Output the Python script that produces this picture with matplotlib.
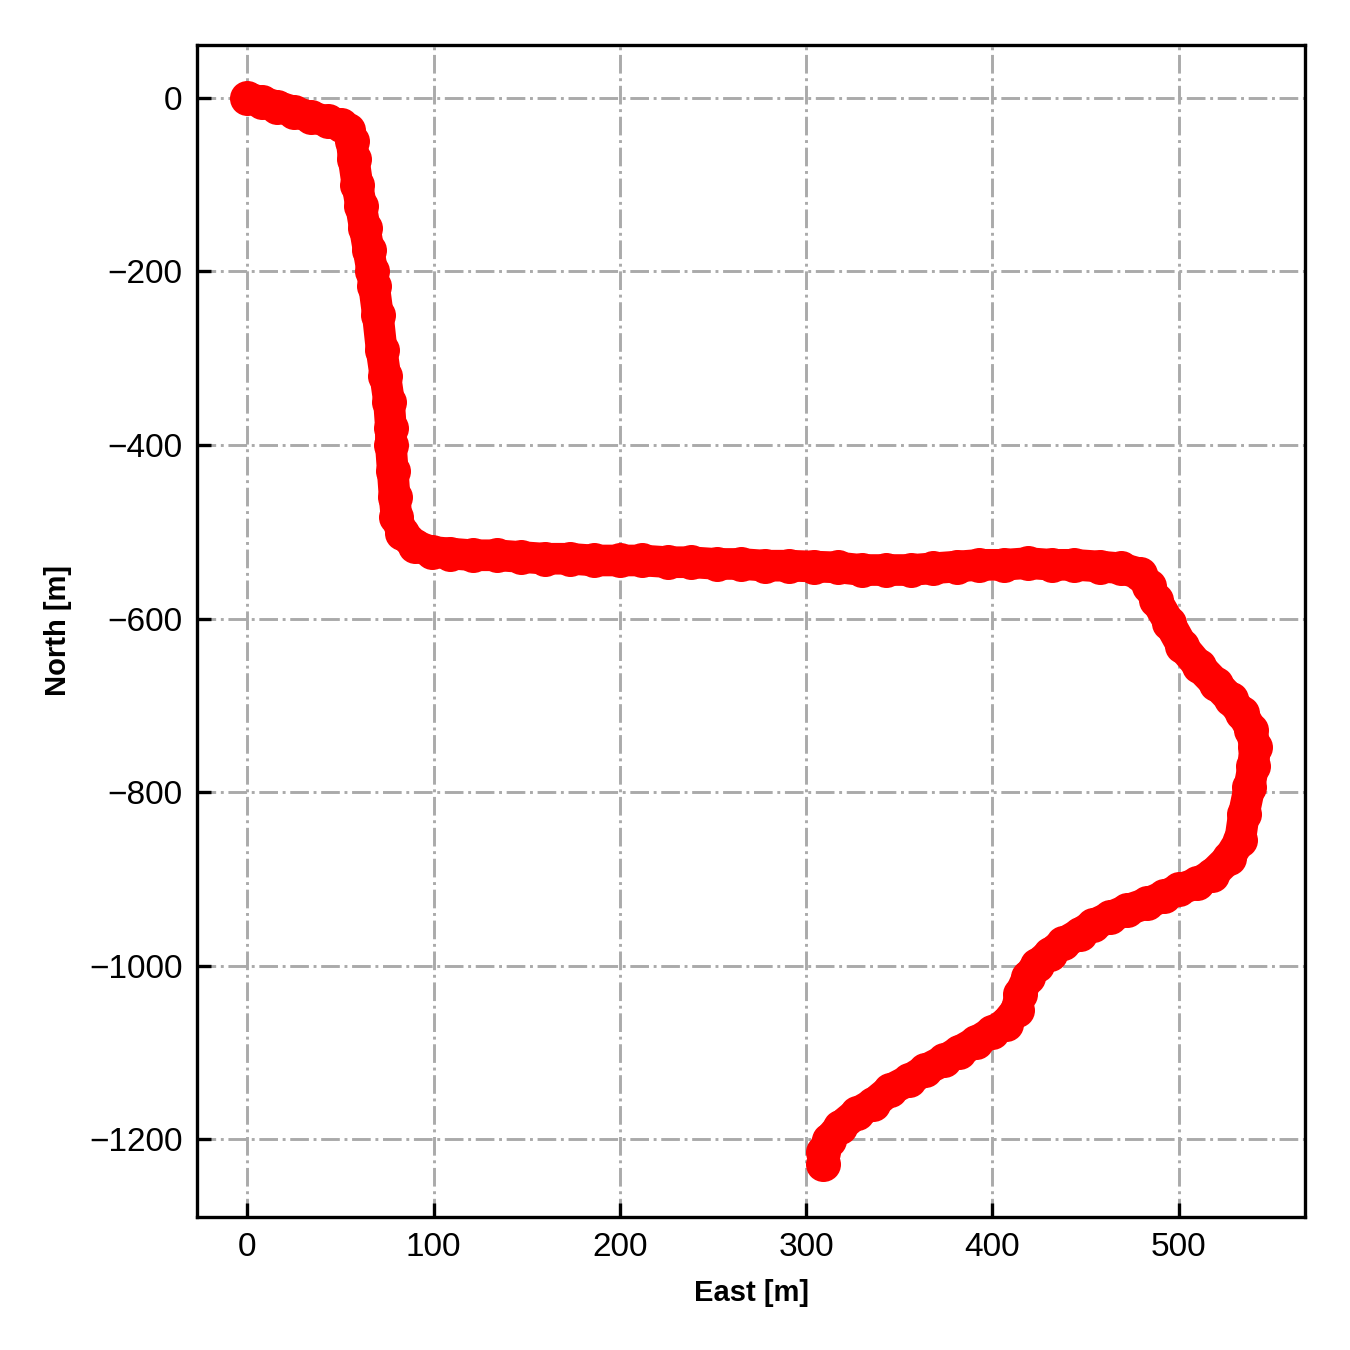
import matplotlib
matplotlib.use('Agg')
import matplotlib.pyplot as plt

plt.rcParams['font.family'] = ['Liberation Sans', 'DejaVu Sans']

# trajectory (metres)
east = [0, 8, 16, 25, 34, 43, 50, 54,
        56, 57, 59, 61, 63, 65, 67, 68, 70, 72, 74, 76, 77, 77, 78, 79, 80, 83, 90,
        99, 109, 121, 134, 147, 160, 173, 186, 200, 212, 226, 238, 252, 265, 278, 291,
        304, 317, 330, 343, 356, 368, 381, 393, 406, 419, 432, 444, 458, 469, 479,
        484, 488, 495, 502, 511, 520, 528, 534, 539, 541, 540, 538, 535, 533, 527,
        518, 510, 500, 492, 483, 472, 463, 454, 447, 438, 431, 424, 419, 415, 413,
        407, 400, 391, 382, 374, 364, 355, 345, 336, 327, 318, 312, 309, 309]
north = [0, -5, -10, -16, -22, -27, -31, -37,
         -50, -70, -100, -125, -150, -175, -200, -217, -250, -290, -320, -350, -380, -400, -430, -460, -483, -501, -516,
         -523, -525, -527, -527, -529, -531, -531, -533, -533, -533, -535, -535, -537, -537, -539, -539,
         -540, -541, -544, -544, -544, -542, -540, -538, -538, -536, -538, -538, -540, -542, -548,
         -562, -579, -605, -632, -655, -675, -693, -709, -728, -748, -770, -794, -825, -855, -876,
         -895, -905, -912, -920, -928, -936, -944, -953, -963, -974, -986, -999, -1013, -1032, -1051,
         -1067, -1076, -1088, -1099, -1109, -1120, -1132, -1143, -1159, -1170, -1186, -1201, -1215, -1228]

fig = plt.figure(figsize=(4.5, 4.5), dpi=300)
ax = fig.add_axes([0.146, 0.0985, 0.821, 0.8685])

ax.plot(east, north, '-', color='red', lw=7.6, solid_capstyle='round',
        solid_joinstyle='round', zorder=3)
ax.plot(east, north, 'o', color='red', ms=8.4, mew=0, zorder=3)

ax.grid(True, linestyle='-.', color='#aaaaaa', lw=0.7)
ax.set_axisbelow(True)
ax.tick_params(direction='in', length=3.4, width=0.8, labelsize=8)
for s in ax.spines.values():
    s.set_linewidth(0.8)

ax.set_xlabel('East [m]', fontsize=7, fontweight='bold')
ax.set_ylabel('North [m]', fontsize=7, fontweight='bold')

fig.savefig('out.png', dpi=300)
